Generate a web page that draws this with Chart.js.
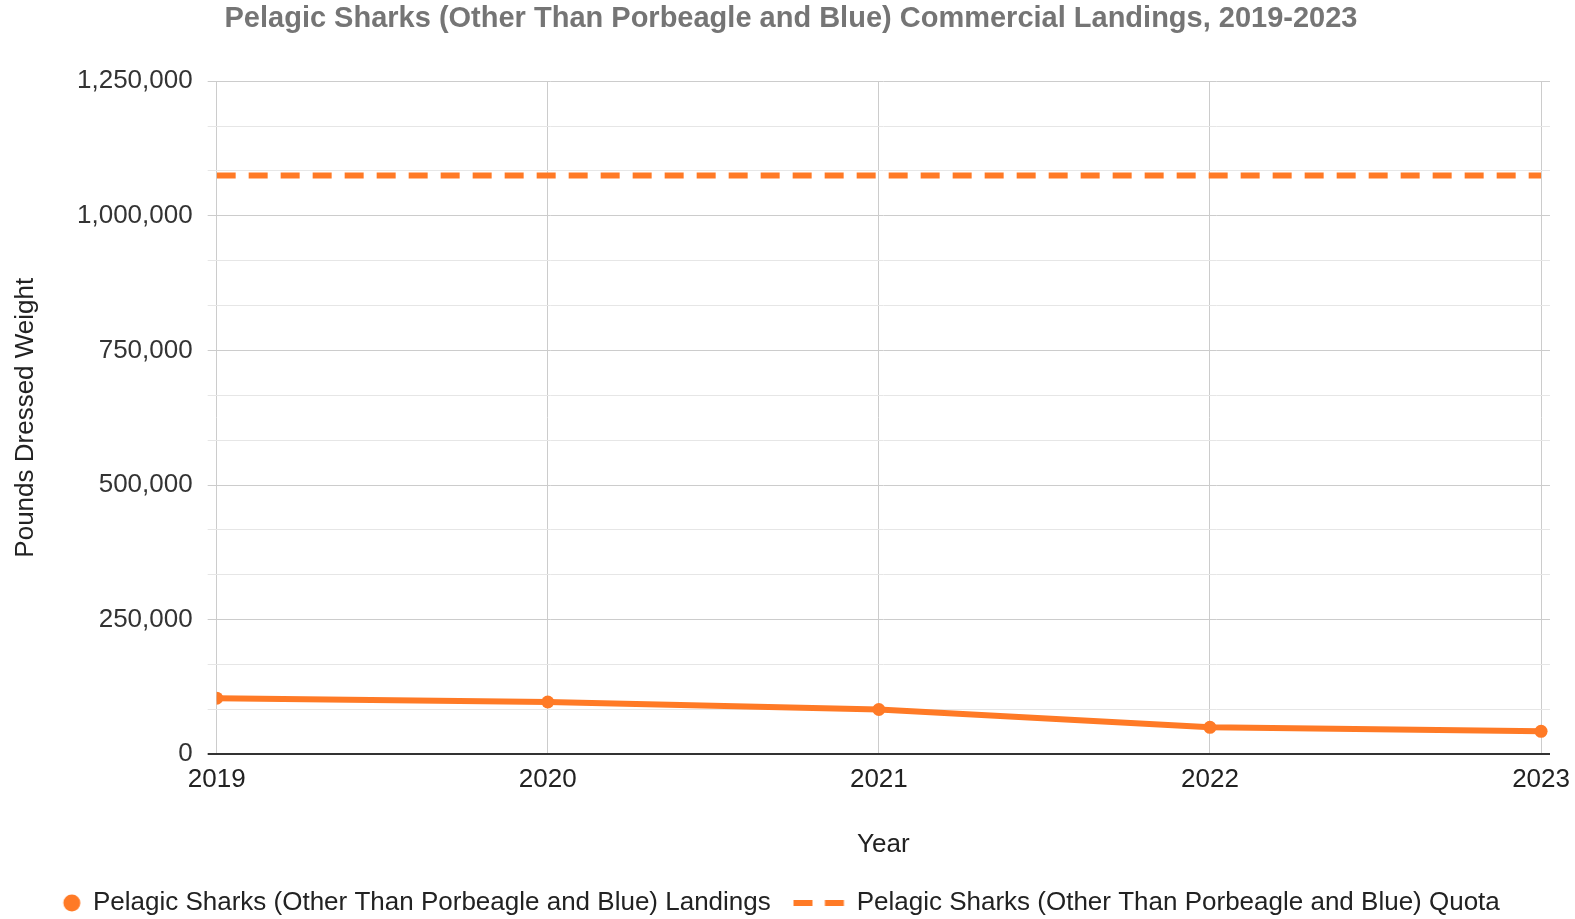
<!DOCTYPE html>
<html>
<head>
<meta charset="utf-8">
<script src="https://cdn.jsdelivr.net/npm/chart.js@4.4.1/dist/chart.umd.min.js"></script>
<style>
  html, body { margin: 0; padding: 0; background: #fff; }
  #wrap { position: relative; width: 1575px; height: 919px; }
</style>
</head>
<body>
<div id="wrap"><canvas id="sharkChart"></canvas></div>
<script>
// data
var years = [2019, 2020, 2021, 2022, 2023];
var landings = [104000, 97000, 83000, 50000, 42500];
var quota = [1075000, 1075000, 1075000, 1075000, 1075000];
var yTickValues = [0, 83333, 166667, 250000, 333333, 416667, 500000, 583333, 666667,
    750000, 833333, 916667, 1000000, 1083333, 1166667, 1250000];

var orange = '#ff7a26';
var fontFamily = '"Liberation Sans", Arial, sans-serif';

// legend icons (drawn off to the right of the box centre so they line up like the original)
var circleIcon = document.createElement('canvas');
circleIcon.width = 80; circleIcon.height = 20;
var c1 = circleIcon.getContext('2d');
c1.fillStyle = orange;
c1.beginPath();
c1.arc(64.1, 10, 8.5, 0, Math.PI * 2);
c1.fill();

var dashIcon = document.createElement('canvas');
dashIcon.width = 80; dashIcon.height = 10;
var c2 = dashIcon.getContext('2d');
c2.fillStyle = orange;
c2.fillRect(22, 2, 19, 6);
c2.fillRect(53.4, 2, 19, 6);

var ctx = document.getElementById('sharkChart').getContext('2d');
var sharkChart = new Chart(ctx, {
    type: 'line',
    data: {
        datasets: [{
            label: 'Pelagic Sharks (Other Than Porbeagle and Blue) Landings',
            data: years.map(function (yr, i) { return {x: yr, y: landings[i]}; }),
            borderColor: orange,
            backgroundColor: orange,
            borderWidth: 6,
            pointRadius: 6.5,
            pointHoverRadius: 6.5,
            pointBorderWidth: 0,
            tension: 0
        }, {
            label: 'Pelagic Sharks (Other Than Porbeagle and Blue) Quota',
            data: years.map(function (yr, i) { return {x: yr, y: quota[i]}; }),
            borderColor: orange,
            backgroundColor: orange,
            borderWidth: 6,
            borderDash: [19, 13],
            pointRadius: 0,
            tension: 0
        }]
    },
    options: {
        responsive: true,
        maintainAspectRatio: false,
        animation: false,
        layout: {
            padding: {left: 7, right: 0, top: 0, bottom: -7}
        },
        plugins: {
            title: {
                display: true,
                text: 'Pelagic Sharks (Other Than Porbeagle and Blue) Commercial Landings, 2019-2023',
                color: '#757575',
                font: {family: fontFamily, size: 29, weight: 'bold', lineHeight: 1.2},
                padding: {top: 1.7, bottom: 44.7}
            },
            legend: {
                position: 'bottom',
                align: 'start',
                labels: {
                    usePointStyle: true,
                    pointStyleWidth: 64.4,
                    boxHeight: 12,
                    padding: 8.5,
                    color: '#222',
                    font: {family: fontFamily, size: 26},
                    generateLabels: function (chart) {
                        var items = Chart.defaults.plugins.legend.labels.generateLabels(chart);
                        items[0].pointStyle = circleIcon;
                        items[1].pointStyle = dashIcon;
                        return items;
                    }
                }
            },
            tooltip: {enabled: false}
        },
        scales: {
            x: {
                type: 'linear',
                min: 2019,
                max: 2023.027,
                afterBuildTicks: function (axis) {
                    axis.ticks = years.map(function (yr) { return {value: yr}; });
                },
                // the last year label may run into the right margin, like the original
                afterFit: function (axis) {
                    axis.paddingRight = 25;
                },
                ticks: {
                    color: '#222',
                    padding: 10,
                    font: {family: fontFamily, size: 26},
                    callback: function (value) { return String(value); }
                },
                grid: {color: '#cccccc', drawTicks: false},
                border: {display: false},
                title: {
                    display: true,
                    text: 'Year',
                    color: '#222',
                    font: {family: fontFamily, size: 26, lineHeight: 1.2},
                    padding: {top: 23.5, bottom: 21.4}
                }
            },
            y: {
                min: 0,
                max: 1250000,
                afterBuildTicks: function (axis) {
                    axis.ticks = yTickValues.map(function (v) { return {value: v}; });
                },
                ticks: {
                    color: '#333',
                    padding: 15,
                    font: {family: fontFamily, size: 26},
                    callback: function (value, index) {
                        return index % 3 === 0 ? value.toLocaleString('en-US') : '';
                    }
                },
                grid: {
                    tickLength: 9,
                    color: function (c) {
                        if (c.tick && c.tick.value === 0) return '#333333';
                        return c.index % 3 === 0 ? '#cccccc' : '#e6e6e6';
                    },
                    lineWidth: function (c) {
                        return c.tick && c.tick.value === 0 ? 2 : 1;
                    }
                },
                border: {display: false},
                title: {
                    display: true,
                    text: 'Pounds Dressed Weight',
                    color: '#222',
                    font: {family: fontFamily, size: 26, lineHeight: 1.2},
                    padding: {top: 3.4, bottom: 20.4}
                }
            }
        }
    }
});
</script>
</body>
</html>
